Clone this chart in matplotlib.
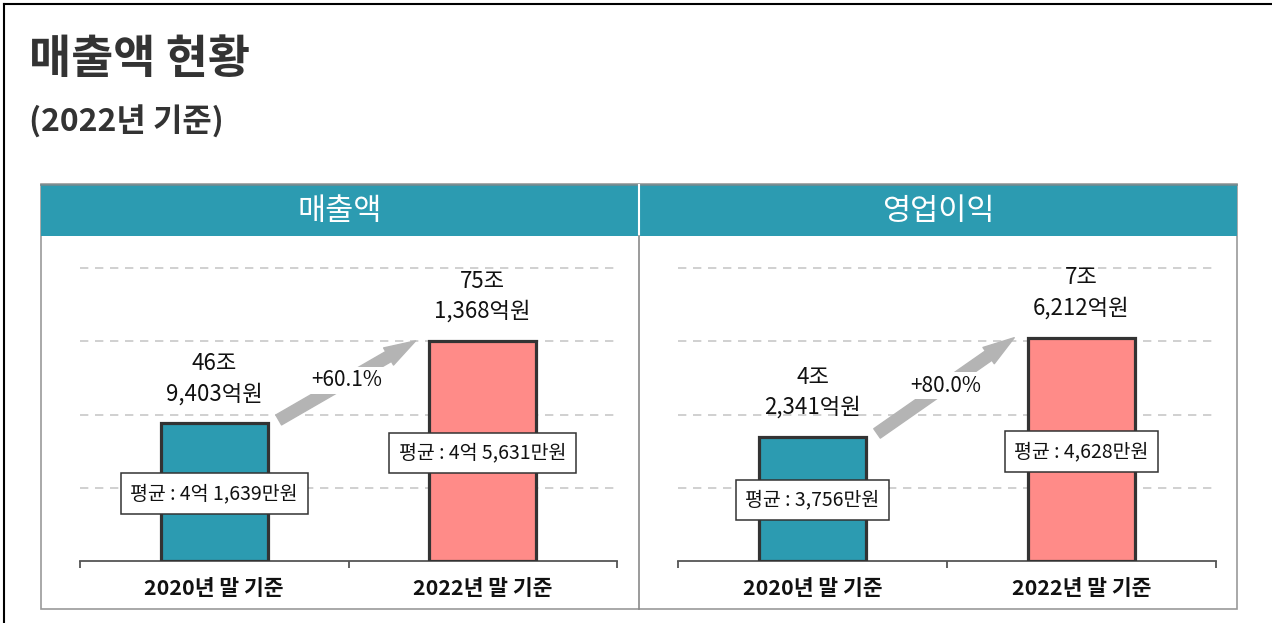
import matplotlib
matplotlib.use("Agg")
import matplotlib.pyplot as plt
from matplotlib.patches import Rectangle
from matplotlib.lines import Line2D

plt.rcParams['font.family'] = ['Noto Sans CJK KR', 'DejaVu Sans']

# data
title = '매출액 현황'
subtitle = '(2022년 기준)'
categories = ['2020년 말 기준', '2022년 말 기준']

sales_title = '매출액'
sales_vals = [46.9403, 75.1368]          # 조원
sales_labels = ['46조\n9,403억원', '75조\n1,368억원']
sales_avg = ['평균 : 4억 1,639만원', '평균 : 4억 5,631만원']
sales_growth = '+60.1%'
sales_grid = [25, 50, 75, 100]

profit_title = '영업이익'
profit_vals = [4.2341, 7.6212]           # 조원
profit_labels = ['4조\n2,341억원', '7조\n6,212억원']
profit_avg = ['평균 : 3,756만원', '평균 : 4,628만원']
profit_growth = '+80.0%'
profit_grid = [2.5, 5, 7.5, 10]

TEAL = '#2C9BB1'
PINK = '#FF8B88'
EDGE = '#333333'

W, H = 1272, 623
fig = plt.figure(figsize=(W / 100, H / 100), dpi=100)


def fx(px):
    return px / W


def fy(py):
    return 1 - py / H


# outer frame (top and left only)
fig.add_artist(Line2D([fx(4), 1], [fy(4), fy(4)], color='black', lw=1.5))
fig.add_artist(Line2D([fx(4), fx(4)], [fy(4), 0], color='black', lw=1.5))

fig.text(fx(29), fy(60), title, fontsize=33, fontweight='bold', color='#333333',
         ha='left', va='center')
fig.text(fx(29), fy(122), subtitle, fontsize=23, fontweight='bold', color='#333333',
         ha='left', va='center')

# panel box + header
fig.add_artist(Rectangle((fx(41), fy(609)), fx(1237) - fx(41), fy(184) - fy(609),
                         fill=False, ec='#9a9a9a', lw=1.2))
fig.add_artist(Rectangle((fx(41), fy(236)), fx(1237) - fx(41), fy(185) - fy(236),
                         fc=TEAL, ec='none'))
fig.add_artist(Line2D([fx(41), fx(1237)], [fy(185), fy(185)], color='#6f8a90', lw=1.2))
fig.add_artist(Line2D([fx(639), fx(639)], [fy(185), fy(236)], color='white', lw=1.5))
fig.add_artist(Line2D([fx(639), fx(639)], [fy(236), fy(609)], color='#8a8a8a', lw=1.2))
fig.text(fx(340), fy(211), sales_title, fontsize=22, fontweight='light', color='white',
         ha='center', va='center')
fig.text(fx(938), fy(211), profit_title, fontsize=22, fontweight='light', color='white',
         ha='center', va='center')


def panel(left, right, vals, labels, avgs, growth, grid):
    ax = fig.add_axes([fx(left), fy(561), fx(right) - fx(left), fy(268) - fy(561)])
    ymax = grid[-1]
    ax.set_xlim(0, 2)
    ax.set_ylim(0, ymax)
    x = [0.5, 1.5]
    w = 0.4
    ax.hlines(grid, 0, 2, colors='#c8c8c8', linestyles=(0, (5, 4)), lw=1.2,
              clip_on=False, zorder=1)
    ax.bar(x, vals, width=w, color=[TEAL, PINK], edgecolor=EDGE, linewidth=2.3, zorder=3)

    for xi, v, lab, avg in zip(x, vals, labels, avgs):
        ax.annotate(lab, (xi, v), xytext=(0, 13), textcoords='offset points',
                    ha='center', va='bottom', fontsize=16, linespacing=1.4,
                    color='#111111', annotation_clip=False)
        ax.text(xi, v * 0.49, avg, ha='center', va='center', fontsize=14,
                color='#111111', zorder=5,
                bbox=dict(boxstyle='square,pad=0.5', fc='white', ec=EDGE, lw=1.1))

    start = (x[0] + w / 2 + 0.04, vals[0] + ymax * 0.012)
    end = (x[1] - w / 2 - 0.05, vals[1])
    ax.annotate('', xy=end, xytext=start,
                arrowprops=dict(arrowstyle='simple,head_length=1.5,head_width=0.95,tail_width=0.55',
                                color='#b4b4b4', mutation_scale=15, shrinkA=0, shrinkB=0),
                zorder=4, annotation_clip=False)
    ax.text((start[0] + end[0]) / 2, (start[1] + end[1]) / 2, growth, ha='center',
            va='center', fontsize=15, color='#111111', zorder=6,
            bbox=dict(boxstyle='square,pad=0.12', fc='white', ec='none'))

    for s in ['top', 'left', 'right']:
        ax.spines[s].set_visible(False)
    ax.spines['bottom'].set_color('#555555')
    ax.spines['bottom'].set_linewidth(1.3)
    ax.set_yticks([])
    ax.set_xticks([0, 1, 2])
    ax.set_xticklabels([])
    ax.tick_params(axis='x', which='major', direction='out', length=5, width=1.3, color='#555555')
    ax.set_xticks(x, categories, minor=True)
    ax.tick_params(axis='x', which='minor', length=0, pad=12, labelsize=15.5)
    for t in ax.get_xticklabels(minor=True):
        t.set_fontweight('bold')
        t.set_color('#111111')
    ax.patch.set_visible(False)
    return ax


panel(80, 617, sales_vals, sales_labels, sales_avg, sales_growth, sales_grid)
panel(678, 1216, profit_vals, profit_labels, profit_avg, profit_growth, profit_grid)

fig.savefig('out.png', dpi=100)
